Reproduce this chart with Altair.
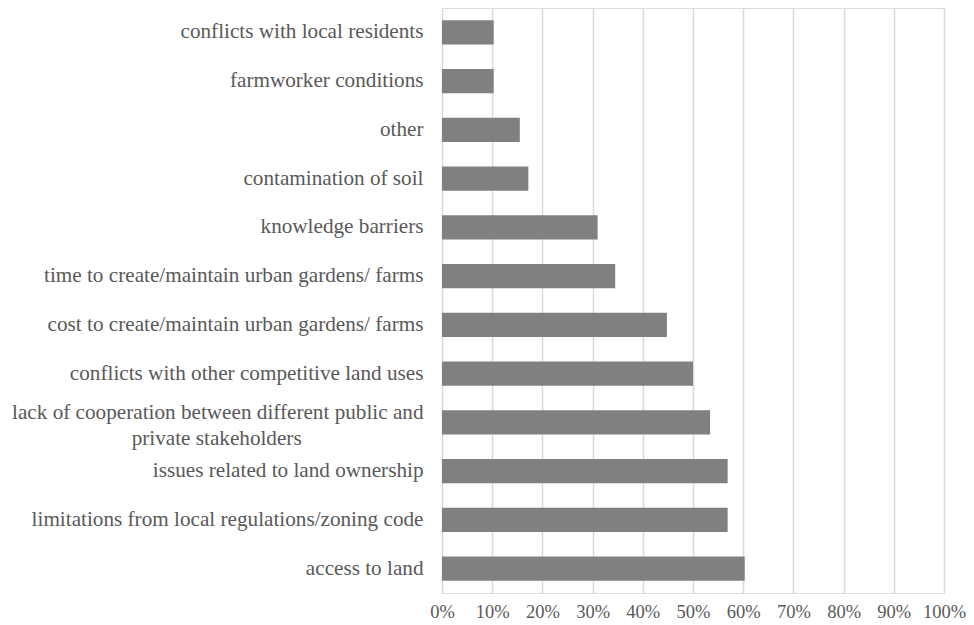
import altair as alt
import pandas as pd

categories = [
    "conflicts with local residents",
    "farmworker conditions",
    "other",
    "contamination of soil",
    "knowledge barriers",
    "time to create/maintain urban gardens/ farms",
    "cost to create/maintain urban gardens/ farms",
    "conflicts with other competitive land uses",
    "lack of cooperation between different public and private stakeholders",
    "issues related to land ownership",
    "limitations from local regulations/zoning code",
    "access to land",
]
values = [0.103, 0.103, 0.155, 0.172, 0.310, 0.345, 0.448, 0.500, 0.534, 0.569, 0.569, 0.603]

df = pd.DataFrame({"category": categories, "value": values})

LONG = "lack of cooperation between different public and private stakeholders"
pad = "\u00a0" * 23 + "\u200b"
label_expr = (
    "datum.label == '" + LONG + "' "
    "? ['lack of cooperation between different public and', 'private stakeholders" + pad + "'] "
    ": datum.label"
)

FONT = "Times New Roman, Liberation Serif, serif"

chart = (
    alt.Chart(df)
    .mark_bar(color="#808080")
    .encode(
        x=alt.X(
            "value:Q",
            scale=alt.Scale(domain=[0, 1]),
            axis=alt.Axis(
                format=".0%",
                values=[i / 10 for i in range(11)],
                grid=True,
                gridColor="#d9d9d9",
                gridWidth=1.5,
                domain=False,
                ticks=False,
                labelOverlap=False,
                labelFlush=False,
                labelFont=FONT,
                labelFontSize=18.5,
                labelColor="#595959",
                labelPadding=9,
                title=None,
            ),
        ),
        y=alt.Y(
            "category:N",
            sort=categories,
            scale=alt.Scale(paddingInner=0.5, paddingOuter=0.25),
            axis=alt.Axis(
                domain=False,
                ticks=False,
                grid=False,
                labelFont=FONT,
                labelFontSize=21.2,
                labelColor="#595959",
                labelPadding=19,
                labelLimit=500,
                labelLineHeight=26,
                labelExpr=label_expr,
                labelOffset={"condition": {"test": "datum.value == '" + LONG + "'", "value": -9}, "value": 0},
                title=None,
            ),
        ),
    )
    .properties(
        width=502,
        height=585,
        autosize=alt.AutoSizeParams(type="none"),
        padding={"left": 434, "top": 0, "right": 22, "bottom": 30},
    )
    .configure_view(stroke=None)
    .configure(background="white")
)

chart.save("out.html", embed_options={"renderer": "svg", "actions": False})
